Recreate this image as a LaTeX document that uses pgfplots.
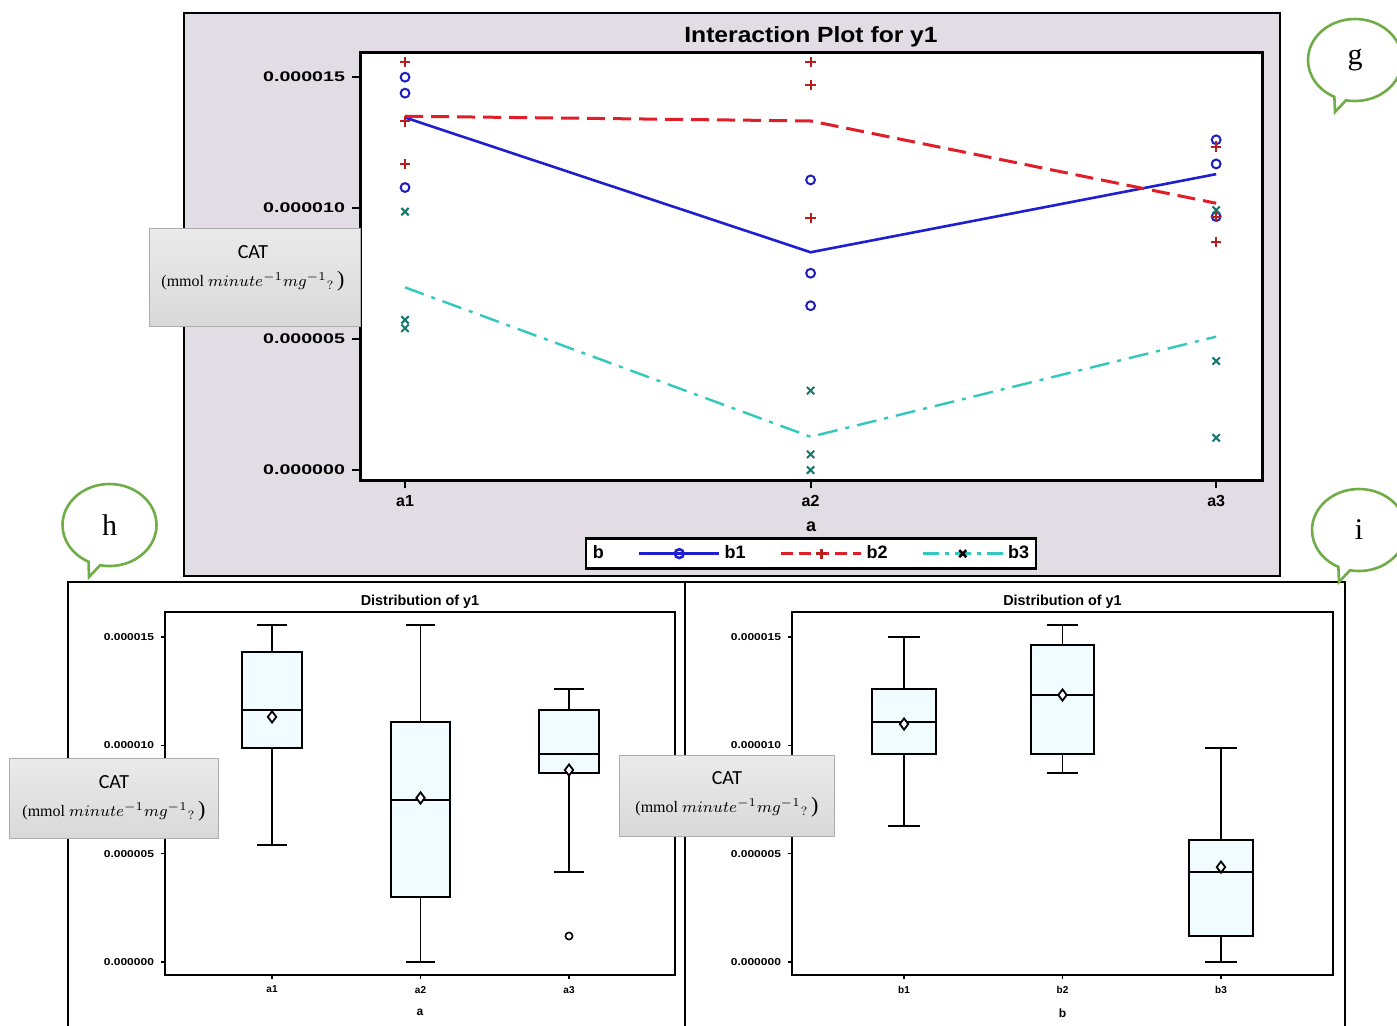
\documentclass[border=0pt]{standalone}
\usepackage{fontspec}
\setmainfont{Liberation Sans}
\newfontfamily\calib{Carlito}
\newfontfamily\serif{Liberation Serif}
\usepackage{graphicx}
\usepackage{pgfplots}
\pgfplotsset{compat=1.18}
\usepgfplotslibrary{statistics}
\usetikzlibrary{shapes.callouts}
\definecolor{bgnoise}{RGB}{226,220,228}
\definecolor{cb1}{RGB}{30,30,210}
\definecolor{cb1m}{RGB}{30,30,190}
\definecolor{cb2}{RGB}{225,30,40}
\definecolor{cb2m}{RGB}{185,30,30}
\definecolor{cb3}{RGB}{50,200,190}
\definecolor{cb3m}{RGB}{20,120,110}
\definecolor{boxfill}{RGB}{240,252,255}
\definecolor{bubble}{RGB}{112,173,71}
\newcommand{\sx}[1]{\scalebox{1.4}[1]{#1}}
\newcommand{\sy}[1]{\scalebox{1.2}[1]{#1}}
\newcommand{\unitline}{{\fontsize{8}{10}\selectfont\serif (mmol $minute^{-1}mg^{-1}{}_{?}$\,{\fontsize{11}{12}\selectfont )}}}
% values below are in units of 1e-6 (tick labels show the original 0.0000xx values)
\begin{document}
\begin{tikzpicture}
\begin{scope}[x=0.5pt,y=-0.5pt]
\path[use as bounding box] (0,0) rectangle (1397,1025);
\clip (0,0) rectangle (1397,1025);
\fill[white] (0,0) rectangle (1397,1025);
\fill[bgnoise] (184,13) rectangle (1280,576);
\draw[line width=1.2pt] (184,13) rectangle (1280,576);
\draw[line width=0.8pt] (68,1030) -- (68,582) -- (1345,582) -- (1345,1030);
\draw[line width=0.8pt] (685,582) -- (685,1030);
\end{scope}

% ---------------- top: interaction plot ----------------
\begin{axis}[at={(180pt,-240pt)}, anchor=south west, scale only axis,
  width=451pt, height=214pt,
  xmin=0.889, xmax=3.113, ymin=-0.38, ymax=15.95,
  axis background/.style={fill=white},
  axis line style={line width=1.5pt},
  xtick={1,2,3}, xticklabels={a1,a2,a3},
  ytick={0,5,10,15},
  yticklabels={\sx{0.000000},\sx{0.000005},\sx{0.000010},\sx{0.000015}},
  tick align=outside, xtick pos=left, ytick pos=left,
  major tick length=4pt, tick style={black, line width=1pt},
  xticklabel style={font=\bfseries\fontsize{8}{9}\selectfont},
  yticklabel style={font=\bfseries\fontsize{7}{8}\selectfont},
  title={\scalebox{1.12}[1]{Interaction Plot for y1}},
  title style={font=\bfseries\fontsize{11}{13}\selectfont, yshift=-7pt},
  xlabel={a}, xlabel style={font=\bfseries\fontsize{9}{10}\selectfont, yshift=-1pt},
  clip=false,
  legend columns=4,
  legend style={at={(0.5,-0.172)}, anchor=center, draw=black, line width=1.3pt,
    font=\bfseries\fontsize{9}{10}\selectfont, inner sep=1.5pt,
    /tikz/every even column/.append style={column sep=15pt}},
  legend image code/.code={\draw[mark repeat=2,mark phase=2,#1] plot coordinates {(0pt,0pt) (20pt,0pt) (40pt,0pt)};},
]
\addlegendimage{empty legend}\addlegendentry{b}
\addlegendimage{cb1, line width=1.3pt, mark=o, mark size=2.2pt}\addlegendentry{b1}
\addlegendimage{cb2, line width=1.5pt, dash pattern=on 6pt off 3pt, mark=+, mark size=2.5pt, mark options={solid, cb2m}}\addlegendentry{b2}
\addlegendimage{cb3, line width=1.2pt, dash pattern=on 8pt off 3pt on 2pt off 3pt, mark=x, mark size=2.5pt, mark options={solid, black}}\addlegendentry{b3}

\addplot[forget plot, cb1, line width=1.3pt] coordinates {(1,13.45) (2,8.31) (3,11.29)};
\addplot[forget plot, cb2, line width=1.5pt, dash pattern=on 9pt off 4pt] coordinates {(1,13.50) (2,13.32) (3,10.18)};
\addplot[forget plot, cb3, line width=1.2pt, dash pattern=on 10pt off 4pt on 2pt off 4pt] coordinates {(1,6.97) (2,1.27) (3,5.09)};

\addplot[forget plot, only marks, mark=o, mark size=2.2pt, cb1m, line width=1pt] coordinates {
 (1,14.99) (1,14.38) (1,10.78)
 (2,11.07) (2,7.51) (2,6.27)
 (3,12.60) (3,11.68) (3,9.67)};
\addplot[forget plot, only marks, mark=+, mark size=2.6pt, cb2m, line width=1pt] coordinates {
 (1,15.58) (1,13.30) (1,11.68)
 (2,15.58) (2,14.69) (2,9.61)
 (3,12.34) (3,9.67) (3,8.69)};
\addplot[forget plot, only marks, mark=x, mark size=2.6pt, cb3m, line width=1pt] coordinates {
 (1,9.86) (1,5.73) (1,5.41)
 (2,3.03) (2,0.60) (2,0.00)
 (3,9.92) (3,4.16) (3,1.23)};
\end{axis}

% ---------------- bottom left: boxplot by a ----------------
\begin{axis}[at={(82.5pt,-487.5pt)}, anchor=south west, scale only axis,
  width=255pt, height=181.5pt,
  xmin=0.279, xmax=3.714, ymin=-0.6, ymax=16.15,
  axis line style={line width=1pt},
  xtick={1,2,3}, xticklabels={a1,a2,a3},
  ytick={0,5,10,15},
  yticklabels={\sy{0.000000},\sy{0.000005},\sy{0.000010},\sy{0.000015}},
  tick align=outside, xtick pos=left, ytick pos=left,
  major tick length=2pt, tick style={black, line width=0.6pt},
  ticklabel style={font=\bfseries\fontsize{5}{6}\selectfont},
  title={Distribution of y1},
  title style={font=\bfseries\fontsize{7.2}{8}\selectfont, yshift=-8pt},
  xlabel={a}, xlabel style={font=\bfseries\fontsize{6}{7}\selectfont, yshift=-1pt},
  boxplot/draw direction=y, boxplot/box extend=0.4, boxplot/whisker extend=0.2,
]
\addplot[boxplot prepared={lower whisker=5.40, lower quartile=9.88, median=11.63, upper quartile=14.31, upper whisker=15.55, draw position=1}, draw=black, fill=boxfill, line width=0.9pt] coordinates {};
\addplot[boxplot prepared={lower whisker=0.00, lower quartile=3.00, median=7.48, upper quartile=11.08, upper whisker=15.55, draw position=2}, draw=black, fill=boxfill, line width=0.9pt] coordinates {};
\addplot[boxplot prepared={lower whisker=4.15, lower quartile=8.72, median=9.60, upper quartile=11.63, upper whisker=12.60, draw position=3}, draw=black, fill=boxfill, line width=0.9pt] coordinates {};
\addplot[only marks, mark=diamond*, mark size=2.8pt, mark options={fill=white, draw=black, line width=0.9pt}] coordinates {(1,11.31) (2,7.57) (3,8.86)};
\addplot[only marks, mark=o, mark size=1.8pt, black, line width=0.8pt] coordinates {(3,1.20)};
\end{axis}

% ---------------- bottom right: boxplot by b ----------------
\begin{axis}[at={(396pt,-487.5pt)}, anchor=south west, scale only axis,
  width=270.5pt, height=181.5pt,
  xmin=0.293, xmax=3.707, ymin=-0.6, ymax=16.15,
  axis line style={line width=1pt},
  xtick={1,2,3}, xticklabels={b1,b2,b3},
  ytick={0,5,10,15},
  yticklabels={\sy{0.000000},\sy{0.000005},\sy{0.000010},\sy{0.000015}},
  tick align=outside, xtick pos=left, ytick pos=left,
  major tick length=2pt, tick style={black, line width=0.6pt},
  ticklabel style={font=\bfseries\fontsize{5}{6}\selectfont},
  title={Distribution of y1},
  title style={font=\bfseries\fontsize{7.2}{8}\selectfont, yshift=-8pt},
  xlabel={b}, xlabel style={font=\bfseries\fontsize{6}{7}\selectfont, yshift=-1pt},
  boxplot/draw direction=y, boxplot/box extend=0.4, boxplot/whisker extend=0.2,
]
\addplot[boxplot prepared={lower whisker=6.28, lower quartile=9.60, median=11.08, upper quartile=12.60, upper whisker=15.00, draw position=1}, draw=black, fill=boxfill, line width=0.9pt] coordinates {};
\addplot[boxplot prepared={lower whisker=8.72, lower quartile=9.60, median=12.32, upper quartile=14.63, upper whisker=15.55, draw position=2}, draw=black, fill=boxfill, line width=0.9pt] coordinates {};
\addplot[boxplot prepared={lower whisker=0.00, lower quartile=1.20, median=4.15, upper quartile=5.63, upper whisker=9.88, draw position=3}, draw=black, fill=boxfill, line width=0.9pt] coordinates {};
\addplot[only marks, mark=diamond*, mark size=2.8pt, mark options={fill=white, draw=black, line width=0.9pt}] coordinates {(1,10.98) (2,12.32) (3,4.38)};
\end{axis}

% ---------------- overlays ----------------
\begin{scope}[x=0.5pt,y=-0.5pt]
\clip (0,0) rectangle (1397,1025);
\shade[top color=gray!16, bottom color=gray!30, draw=gray!65, line width=0.5pt] (149,228) rectangle (360,326);
\node at (253,252) {\calib\fontsize{10}{12}\selectfont CAT};
\node at (253,281) {\unitline};
\shade[top color=gray!16, bottom color=gray!30, draw=gray!65, line width=0.5pt] (9,758) rectangle (218,838);
\node at (114,782) {\calib\fontsize{10}{12}\selectfont CAT};
\node at (114,811) {\unitline};
\shade[top color=gray!16, bottom color=gray!30, draw=gray!65, line width=0.5pt] (619,755) rectangle (834,836);
\node at (727,778) {\calib\fontsize{10}{12}\selectfont CAT};
\node at (727,807) {\unitline};

\node[ellipse callout, draw=bubble, line width=1.3pt, fill=white, inner sep=0pt,
  minimum width=47pt, minimum height=41pt, callout absolute pointer={(1335,112)}]
  at (1355,60) {\serif\fontsize{15}{16}\selectfont g};
\node[ellipse callout, draw=bubble, line width=1.3pt, fill=white, inner sep=0pt,
  minimum width=47pt, minimum height=41pt, callout absolute pointer={(89,577)}]
  at (109.5,525) {\serif\fontsize{15}{16}\selectfont h};
\node[ellipse callout, draw=bubble, line width=1.3pt, fill=white, inner sep=0pt,
  minimum width=47pt, minimum height=41pt, callout absolute pointer={(1339,582)}]
  at (1359,530) {\serif\fontsize{15}{16}\selectfont i};
\end{scope}
\end{tikzpicture}
\end{document}
